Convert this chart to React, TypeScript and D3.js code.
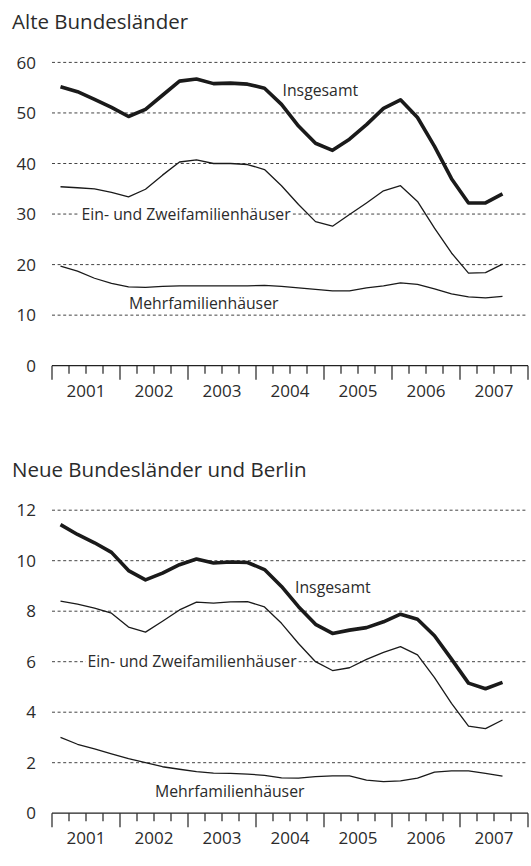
import React from 'react';
import * as d3 from 'd3';

// quarters 2001-Q1 .. 2007-Q4 (last quarter has no data yet)
const quarters = [
  '2001-1', '2001-2', '2001-3', '2001-4',
  '2002-1', '2002-2', '2002-3', '2002-4',
  '2003-1', '2003-2', '2003-3', '2003-4',
  '2004-1', '2004-2', '2004-3', '2004-4',
  '2005-1', '2005-2', '2005-3', '2005-4',
  '2006-1', '2006-2', '2006-3', '2006-4',
  '2007-1', '2007-2', '2007-3', '2007-4',
];
const years = ['2001', '2002', '2003', '2004', '2005', '2006', '2007'];

// Alte Bundesländer (1000 Wohnungen)
const altInsgesamt = [55.2, 54.2, 52.7, 51.1, 49.3, 50.7, 53.5, 56.3, 56.7, 55.8, 55.9, 55.7, 54.9, 51.7, 47.4, 44.0, 42.6, 44.8, 47.7, 50.9, 52.6, 49.1, 43.4, 37.0, 32.2, 32.2, 34.0];
const altEinZwei = [35.4, 35.2, 35.0, 34.3, 33.4, 34.9, 37.7, 40.3, 40.7, 40.0, 40.0, 39.8, 38.8, 35.6, 31.9, 28.5, 27.6, 29.9, 32.2, 34.6, 35.6, 32.5, 27.2, 22.3, 18.3, 18.4, 20.1];
const altMehr = [19.7, 18.7, 17.3, 16.3, 15.6, 15.5, 15.7, 15.8, 15.8, 15.8, 15.8, 15.8, 15.9, 15.7, 15.4, 15.1, 14.8, 14.8, 15.4, 15.8, 16.4, 16.1, 15.2, 14.2, 13.6, 13.4, 13.7];
const altTicks = [0, 10, 20, 30, 40, 50, 60];

// Neue Bundesländer und Berlin
const neuInsgesamt = [11.43, 11.04, 10.71, 10.33, 9.61, 9.24, 9.51, 9.84, 10.07, 9.91, 9.95, 9.93, 9.65, 8.98, 8.18, 7.48, 7.12, 7.25, 7.35, 7.58, 7.88, 7.68, 7.03, 6.1, 5.15, 4.93, 5.18];
const neuEinZwei = [8.4, 8.28, 8.12, 7.92, 7.37, 7.17, 7.6, 8.05, 8.36, 8.32, 8.37, 8.38, 8.17, 7.52, 6.72, 6.0, 5.65, 5.76, 6.09, 6.37, 6.6, 6.27, 5.37, 4.35, 3.45, 3.35, 3.69];
const neuMehr = [3.0, 2.73, 2.55, 2.35, 2.16, 2.0, 1.84, 1.74, 1.65, 1.59, 1.58, 1.55, 1.5, 1.4, 1.39, 1.45, 1.48, 1.48, 1.31, 1.25, 1.28, 1.39, 1.63, 1.68, 1.68, 1.58, 1.47];
const neuTicks = [0, 2, 4, 6, 8, 10, 12];

const FONT = "'Open Sans', 'Liberation Sans', sans-serif";
const INK = '#2b2b2b';

const x = d3.scaleBand().domain(quarters).range([52, 528]).paddingInner(0).paddingOuter(0);
const cx = (i) => x(quarters[i]) + x.bandwidth() / 2;

const Panel = ({ title, titleY, y, ticks, insg, ein, mehr, labels }) => {
  const line = d3.line().x((d, i) => cx(i)).y(d => y(d));
  const y0 = y(0);
  return (
    <g>
      <text x={12} y={titleY} fontSize={20.5} fill={INK} fontFamily={FONT}>{title}</text>

      {ticks.map(t => (
        <g key={t}>
          {t !== 0 && (
            <line x1={52} x2={528} y1={y(t)} y2={y(t)} stroke="#444" strokeWidth={1} strokeDasharray="3,2.6" />
          )}
          <text x={36} y={y(t)} dy="0.36em" textAnchor="end" fontSize={17} fill={INK} fontFamily={FONT}>{t}</text>
        </g>
      ))}

      {/* x axis */}
      <line x1={52} x2={528} y1={y0} y2={y0} stroke="#222" strokeWidth={1.2} />
      {quarters.map((q, i) => (
        <line key={q} x1={x(q)} x2={x(q)} y1={y0} y2={y0 + (i % 4 === 0 ? 14 : 8)} stroke="#222" strokeWidth={1.2} />
      ))}
      <line x1={528} x2={528} y1={y0} y2={y0 + 14} stroke="#222" strokeWidth={1.2} />
      {years.map((yr, k) => (
        <text key={yr} x={(x(quarters[k * 4]) + x(quarters[k * 4 + 3]) + x.bandwidth()) / 2} y={y0 + 31}
          textAnchor="middle" fontSize={17} fill={INK} fontFamily={FONT}>{yr}</text>
      ))}

      {/* series labels */}
      <text x={labels.insg[0]} y={labels.insg[1]} fontSize={15.8} fill={INK} fontFamily={FONT}>Insgesamt</text>
      <rect x={labels.ein[0] - 2} y={labels.ein[1] - 13} width={labels.ein[2]} height={17} fill="#fff" />
      <text x={labels.ein[0]} y={labels.ein[1]} fontSize={15.8} fill={INK} fontFamily={FONT}>Ein- und Zweifamilienhäuser</text>
      <text x={labels.mehr[0]} y={labels.mehr[1]} fontSize={15.8} fill={INK} fontFamily={FONT}>Mehrfamilienhäuser</text>

      <path d={line(mehr)} fill="none" stroke="#1a1a1a" strokeWidth={1.3} strokeLinejoin="round" />
      <path d={line(ein)} fill="none" stroke="#1a1a1a" strokeWidth={1.3} strokeLinejoin="round" />
      <path d={line(insg)} fill="none" stroke="#1a1a1a" strokeWidth={3.6} strokeLinejoin="round" />
    </g>
  );
};

export default function App() {
  const yAlt = d3.scaleLinear().domain([0, 60]).range([365.7, 62.4]);
  const yNeu = d3.scaleLinear().domain([0, 12]).range([813.2, 510.2]);
  return (
    <svg width={531} height={866} style={{ position: 'absolute', left: 0, top: 0, background: '#fff' }}>
      <Panel title="Alte Bundesländer" titleY={29} y={yAlt} ticks={altTicks}
        insg={altInsgesamt} ein={altEinZwei} mehr={altMehr}
        labels={{ insg: [282.5, 96], ein: [81.5, 219.5, 213], mehr: [129, 309] }} />
      <Panel title="Neue Bundesländer und Berlin" titleY={477} y={yNeu} ticks={neuTicks}
        insg={neuInsgesamt} ein={neuEinZwei} mehr={neuMehr}
        labels={{ insg: [295, 592.5], ein: [87.5, 666.5, 213], mehr: [155, 797] }} />
    </svg>
  );
}
